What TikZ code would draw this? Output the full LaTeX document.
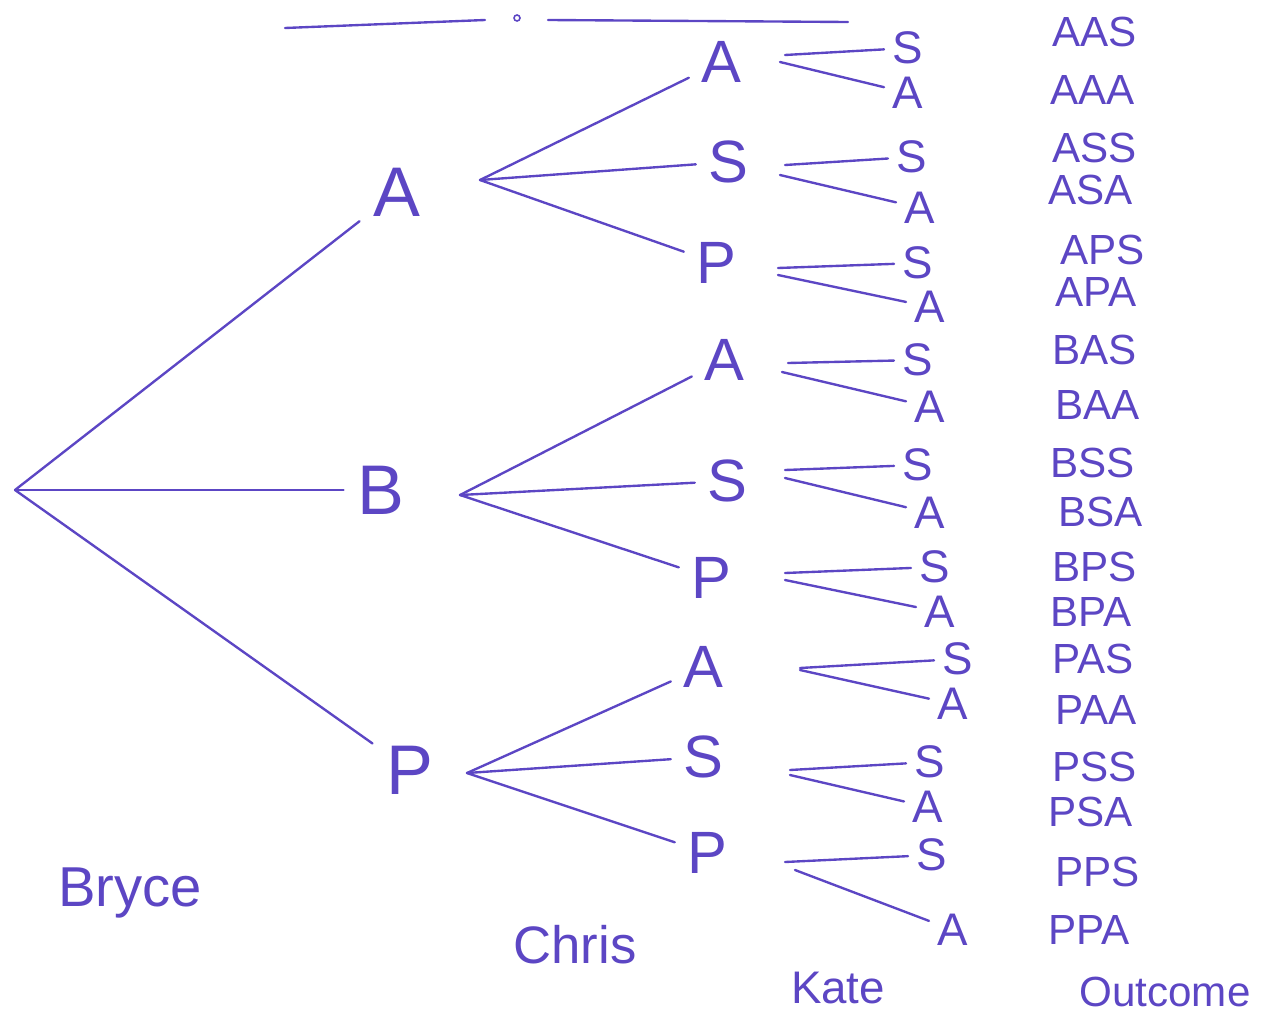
\documentclass[tikz,border=0pt]{standalone}
\usepackage{fontspec}
\setmainfont{Liberation Sans}
\definecolor{ink}{RGB}{92,70,196}
\begin{document}
\begin{tikzpicture}[x=0.02cm,y=-0.02cm,
  inkline/.style={draw=ink,line width=1.35pt,line cap=round},
  lvlone/.style={text=ink,font=\fontsize{40}{40}\selectfont,inner sep=2pt,outer sep=6pt},
  lvltwo/.style={text=ink,font=\fontsize{34}{34}\selectfont,inner sep=1pt,outer sep=6pt},
  lvlthree/.style={text=ink,font=\fontsize{26}{26}\selectfont,inner sep=1pt,outer sep=4pt},
  outcome/.style={text=ink,font=\fontsize{24}{24}\selectfont,anchor=west,inner sep=0pt},
  caption/.style={text=ink,font=\fontsize{32}{32}\selectfont}]
\useasboundingbox (0,0) rectangle (1274,1014);

% header rule with a small mark
\coordinate (h1) at (285,28);
\coordinate (h2) at (485,20);
\coordinate (h3) at (548,20);
\coordinate (h4) at (848,22);
\draw[inkline] (h1) -- (h2);
\draw[inkline,line width=0.9pt] (517,18) circle (3);
\draw[inkline] (h3) -- (h4);

% root
\coordinate (root) at (15,490);

% first level (Bryce)
\node[lvlone] (bA) at (397,192) {A};
\node[lvlone] (bB) at (381,490) {B};
\node[lvlone] (bP) at (410,770) {P};
\draw[inkline] (root) -- (bA);
\draw[inkline] (root) -- (bB);
\draw[inkline] (root) -- (bP);

% second level (Chris)
\coordinate (fA) at (480,180);
\coordinate (fB) at (460,495);
\coordinate (fP) at (467,773);
\foreach \p/\ax/\ay/\sx/\sy/\qx/\qy in {
  A/721/62/728/162/716/263,
  B/724/360/727/481/711/578,
  P/703/667/703/757/707/853}{
  \node[lvltwo] (c\p A) at (\ax,\ay) {A};
  \node[lvltwo] (c\p S) at (\sx,\sy) {S};
  \node[lvltwo] (c\p P) at (\qx,\qy) {P};
  \draw[inkline] (f\p) -- (c\p A);
  \draw[inkline] (f\p) -- (c\p S);
  \draw[inkline] (f\p) -- (c\p P);
}

% third level (Kate)
\foreach \n/\sx/\sy/\ax/\ay/\ux/\uy/\vx/\vy in {
  AA/908/48/908/93/785/55/780/62,
  AS/912/157/920/208/785/165/780/175,
  AP/918/263/930/307/778/268/778/275,
  BA/918/360/930/407/788/363/782/372,
  BS/918/465/930/513/785/470/785/478,
  BP/935/567/940/612/785/573/785/580,
  PA/958/659/953/704/800/668/800/670,
  PS/930/762/928/807/790/770/790/775,
  PP/932/855/953/930/785/862/795/870}{
  \node[lvlthree] (k\n S) at (\sx,\sy) {S};
  \node[lvlthree] (k\n A) at (\ax,\ay) {A};
  \coordinate (u\n) at (\ux,\uy);
  \coordinate (v\n) at (\vx,\vy);
  \draw[inkline] (u\n) -- (k\n S);
  \draw[inkline] (v\n) -- (k\n A);
}

% outcomes
\foreach \t/\x/\y [count=\i] in {
  AAS/1052/32, AAA/1050/90, ASS/1052/148, ASA/1048/190,
  APS/1060/250, APA/1055/292, BAS/1052/350, BAA/1055/405,
  BSS/1050/463, BSA/1058/512, BPS/1052/567, BPA/1050/612,
  PAS/1052/659, PAA/1055/710, PSS/1052/767, PSA/1048/812,
  PPS/1055/872, PPA/1048/930}{
  \node[outcome] (o\i) at (\x,\y) {\t};
}

% column captions
\node[caption] (lb) at (130,893) {Bryce};
\node[caption,font=\fontsize{30}{30}\selectfont] (lc) at (575,945) {Chris};
\node[caption,font=\fontsize{26}{26}\selectfont] (lk) at (838,988) {Kate};
\node[caption,font=\fontsize{24}{24}\selectfont] (lo) at (1165,992) {Outcome};
\end{tikzpicture}
\end{document}
